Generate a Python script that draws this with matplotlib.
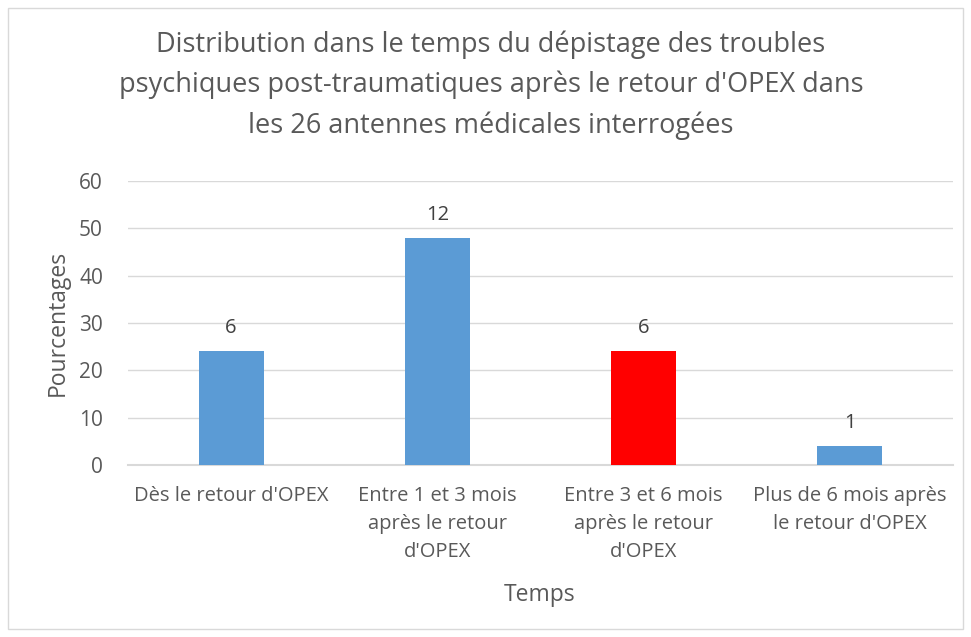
import matplotlib.pyplot as plt
from matplotlib.patches import Rectangle

# Données du graphique
categories = ["Dès le retour d'OPEX",
              "Entre 1 et 3 mois\naprès le retour\nd'OPEX",
              "Entre 3 et 6 mois\naprès le retour\nd'OPEX",
              "Plus de 6 mois après\nle retour d'OPEX"]
pourcentages = [24, 48, 24, 4]
effectifs = [6, 12, 6, 1]
couleurs = ['#5B9BD5', '#5B9BD5', '#FF0000', '#5B9BD5']

titre = ("Distribution dans le temps du dépistage des troubles\n"
         "psychiques post-traumatiques après le retour d'OPEX dans\n"
         "les 26 antennes médicales interrogées")

plt.rcParams['font.family'] = ['Open Sans', 'DejaVu Sans']
gris = '#595959'

fig = plt.figure(figsize=(9.71, 6.37), dpi=100)
fig.patches.append(Rectangle((0.008, 0.012), 0.984, 0.976, transform=fig.transFigure,
                             fill=False, edgecolor='#D9D9D9', linewidth=1))

ax = fig.add_axes([128 / 971, 1 - 465 / 637, (953 - 128) / 971, (465 - 181) / 637])

x = range(len(categories))
bars = ax.bar(x, pourcentages, width=0.315, color=couleurs, zorder=3)
for b, n in zip(bars, effectifs):
    ax.text(b.get_x() + b.get_width() / 2, b.get_height() + 2.8, str(n),
            ha='center', va='bottom', fontsize=14.5, color='#404040')

ax.set_xlim(-0.5, 3.5)
ax.set_ylim(0, 60)
ax.set_yticks(range(0, 61, 10))
ax.yaxis.grid(True, color='#D9D9D9', linewidth=1, zorder=0)
ax.set_xticks(list(x))
ax.set_xticklabels(categories, fontsize=14.5, color=gris, linespacing=1.55)
ax.tick_params(axis='y', labelsize=15, colors=gris, length=0, pad=18)
ax.tick_params(axis='x', length=0, pad=15)
for s in ['top', 'right', 'left']:
    ax.spines[s].set_visible(False)
ax.spines['bottom'].set_color('#D9D9D9')
ax.spines['bottom'].set_linewidth(1.5)

ax.set_ylabel('Pourcentages', fontsize=16.5, color=gris)
ax.yaxis.set_label_coords(-0.07, 0.5)
fig.text(540 / 971, 1 - 595 / 637, 'Temps', ha='center', va='center', fontsize=16.5, color=gris)
fig.text(491 / 971, 1 - 85 / 637, titre, ha='center', va='center', fontsize=19.5,
         color=gris, linespacing=1.55)

fig.savefig('out.png', dpi=100)
